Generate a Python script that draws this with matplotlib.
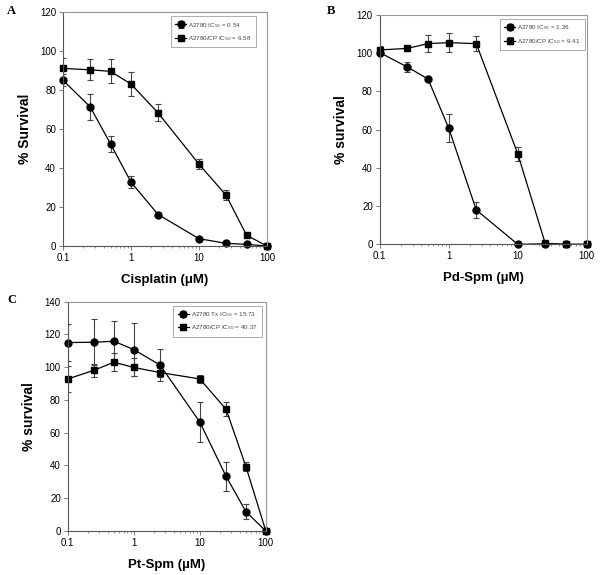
import matplotlib.pyplot as plt
import numpy as np

plt.rcParams['font.family'] = ['Liberation Sans', 'DejaVu Sans']

conc = [0.1, 0.25, 0.5, 1, 2.5, 10, 25, 50, 100]

# panel A - cisplatin
a_s = [85.0, 71.5, 52.4, 32.8, 16.2, 3.8, 1.4, 0.9, 0.0]
a_s_err = [3.0, 6.7, 4.3, 3.2, 1.5, 1.0, 0.5, 0.3, 0.0]
a_r = [91.1, 90.4, 89.6, 83.1, 68.3, 42.0, 26.1, 5.6, 0.0]
a_r_err = [5.1, 5.4, 6.2, 6.2, 4.4, 2.7, 2.6, 1.0, 0.0]

# panel B - Pd-Spm
b_s = [100.3, 92.8, 86.5, 60.7, 18.0, 0.0, 0.3, 0.0, 0.0]
b_s_err = [1.5, 2.5, 1.0, 7.4, 4.4, 0.0, 0.0, 0.0, 0.0]
b_r = [101.7, 102.5, 105.0, 105.5, 105.0, 47.3, 0.5, 0.0, 0.0]
b_r_err = [2.0, 1.5, 4.4, 4.8, 4.0, 3.5, 0.5, 0.0, 0.0]

# panel C - Pt-Spm
c_s = [115.0, 115.2, 115.8, 110.7, 101.3, 66.5, 33.4, 11.8, 0.0]
c_s_err = [11.5, 14.0, 12.4, 16.0, 10.0, 12.3, 8.9, 4.7, 0.0]
c_r = [92.8, 98.1, 103.0, 99.8, 96.7, 92.8, 74.3, 39.3, 0.0]
c_r_err = [8.0, 4.0, 5.5, 5.5, 3.0, 2.5, 4.4, 2.7, 0.0]

fig = plt.figure(figsize=(6, 5.75), dpi=100)


def panel(rect, s, s_err, r, r_err, ymax, xlabel, ylabel, labels, letter, lx, ly, legbox):
    ax = fig.add_axes(rect)
    for y, e, m, ms, lab in [(s, s_err, 'o', 5, labels[0]), (r, r_err, 's', 4.2, labels[1])]:
        cont = ax.errorbar(conc, y, yerr=e, fmt='-' + m, color='black', ms=ms, lw=0.9,
                           ecolor='#444444', elinewidth=0.8, capsize=2.5, capthick=0.8,
                           label=lab)
        for art in cont.lines[:1]:
            art.set_clip_on(False)
    ax.set_xscale('log')
    ax.set_xlim(0.1, 100)
    ax.set_ylim(0, ymax)
    ax.set_xticks([0.1, 1, 10, 100])
    ax.set_xticklabels(['0.1', '1', '10', '100'])
    ax.set_yticks(np.arange(0, ymax + 1, 20))
    ax.tick_params(labelsize=7, width=0.6, length=3, color='#666666', pad=2)
    ax.tick_params(which='minor', width=0.5, length=1.5, color='#666666')
    for sp in ax.spines.values():
        sp.set_color('#999999')
        sp.set_linewidth(0.8)
    for sp in ['left', 'bottom']:
        ax.spines[sp].set_color('#555555')
    ax.set_xlabel(xlabel, fontsize=9.5, fontweight='bold', labelpad=8)
    ax.set_ylabel(ylabel, fontsize=10, fontweight='bold', labelpad=6)
    leg = ax.legend(loc='upper right', bbox_to_anchor=legbox, fontsize=4.5, frameon=True,
                    fancybox=False, edgecolor='#888888', handlelength=1.8,
                    borderpad=0.7, labelspacing=0.7, handletextpad=0.3, borderaxespad=0.3)
    leg.get_frame().set_linewidth(0.6)
    for t in leg.get_texts():
        t.set_color('#444444')
    fig.text(lx, ly, letter, fontsize=9, fontweight='bold', family='Liberation Serif',
             ha='left', va='top')
    return ax


panel([0.105, 0.572, 0.340, 0.407], a_s, a_s_err, a_r, a_r_err, 120,
      'Cisplatin (\u03bcM)', '% Survival',
      ['A2780 IC$_{50}$ = 0.54', 'A2780/CP IC$_{50}$ = 6.58'], 'A', 0.012, 0.992,
      (0.955, 0.99))
panel([0.633, 0.575, 0.345, 0.399], b_s, b_s_err, b_r, b_r_err, 120,
      'Pd-Spm (\u00b5M)', '% survival',
      ['A2780 IC$_{50}$ = 1.26', 'A2780/CP IC$_{50}$ = 9.41'], 'B', 0.545, 0.992,
      (1.0, 0.99))
panel([0.113, 0.0765, 0.330, 0.399], c_s, c_s_err, c_r, c_r_err, 140,
      'Pt-Spm (\u00b5M)', '% survival',
      ['A2780 Tx IC$_{50}$ = 15.73', 'A2780/CP IC$_{50}$ = 40.37'], 'C', 0.012, 0.488,
      (0.99, 0.99))

fig.savefig('out.png', dpi=100)
